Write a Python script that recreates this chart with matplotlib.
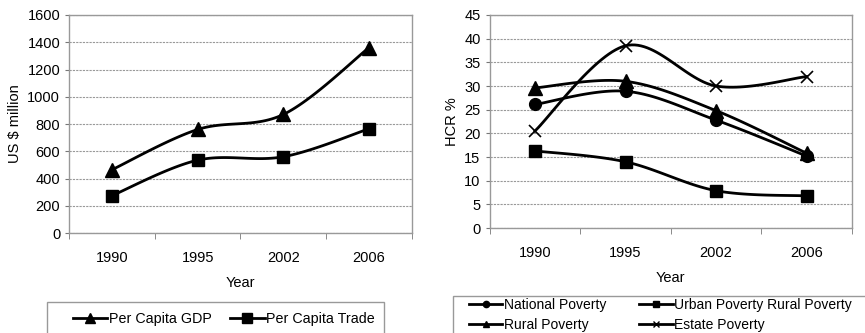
import numpy as np
import matplotlib
matplotlib.use("Agg")
import matplotlib.pyplot as plt
from matplotlib.lines import Line2D
from matplotlib.patches import Rectangle

plt.rcParams['font.family'] = ['Liberation Sans', 'DejaVu Sans']

# Data
years = ["1990", "1995", "2002", "2006"]
gdp = [465, 760, 870, 1360]
trade = [275, 535, 560, 765]

national = [26.1, 28.9, 22.8, 15.2]
urban = [16.3, 14.0, 7.9, 6.8]
rural = [29.6, 31.0, 24.8, 15.8]
estate = [20.5, 38.5, 30.0, 32.0]


def smooth(xs, ys, n=30):
    """Excel-style smoothed line (cubic Bezier through the points)."""
    pts = np.column_stack([np.asarray(xs, float), np.asarray(ys, float)])
    out = []
    for i in range(len(pts) - 1):
        p0 = pts[max(i - 1, 0)]
        p1 = pts[i]
        p2 = pts[i + 1]
        p3 = pts[min(i + 2, len(pts) - 1)]
        c1 = p1 + (p2 - p0) / 6
        c2 = p2 - (p3 - p1) / 6
        t = np.linspace(0, 1, n)[:, None]
        seg = ((1 - t) ** 3) * p1 + 3 * ((1 - t) ** 2) * t * c1 + 3 * (1 - t) * t ** 2 * c2 + t ** 3 * p2
        out.append(seg if i == 0 else seg[1:])
    seg = np.vstack(out)
    return seg[:, 0], seg[:, 1]


def style_axes(ax, ymax, ystep):
    ax.set_xlim(-0.5, len(years) - 0.5)
    ax.set_ylim(0, ymax)
    ax.set_yticks(np.arange(0, ymax + 1, ystep))
    ax.set_xticks(range(len(years)))
    ax.set_xticklabels(years)
    ax.set_xticks(np.arange(-0.5, len(years)), minor=True)
    ax.tick_params(axis='x', which='major', length=0, pad=13, labelsize=10.5)
    ax.tick_params(axis='x', which='minor', length=4, direction='out', color='#777777')
    ax.tick_params(axis='y', length=3, direction='out', color='#777777', labelsize=10.5)
    ax.yaxis.grid(True, color='#999999', linestyle=(0, (2, 1)), linewidth=0.8)
    ax.set_axisbelow(True)
    for s in ax.spines.values():
        s.set_color('#999999')
        s.set_linewidth(1.0)
    ax.set_xlabel("Year", fontsize=10.5, labelpad=8)


def draw(ax, ys, marker, ms, mew=1.0):
    x = np.arange(len(ys))
    sx, sy = smooth(x, ys)
    ax.plot(sx, sy, color='black', lw=2)
    ax.plot(x, ys, linestyle='none', marker=marker, ms=ms, color='black', mew=mew)


def frame(x0, y0, x1, y1):
    # legend box in pixel coords of the 865x333 figure
    fig.patches.append(Rectangle((x0 / 865, 1 - y1 / 333), (x1 - x0) / 865, (y1 - y0) / 333,
                                 transform=fig.transFigure, facecolor='white',
                                 edgecolor='#999999', lw=1.0, zorder=0))


fig = plt.figure(figsize=(8.65, 3.33), dpi=100)

# Left panel
ax1 = fig.add_axes([0.080, 0.300, 0.396, 0.655])
draw(ax1, gdp, '^', 9.5)
draw(ax1, trade, 's', 9)
style_axes(ax1, 1600, 200)
ax1.set_ylabel("US $ million", fontsize=10.5, labelpad=4)

frame(47, 302, 384, 345)
h1 = [Line2D([], [], color='black', lw=2, marker='^', ms=7),
      Line2D([], [], color='black', lw=2, marker='s', ms=7)]
fig.legend(h1, ["Per Capita GDP", "Per Capita Trade"], loc='upper left',
           bbox_to_anchor=(73 / 865, 1 - 312 / 333), ncol=2, fontsize=10.3,
           frameon=False, handlelength=2.4, handletextpad=0.1,
           columnspacing=1.3, borderpad=0, borderaxespad=0)

# Right panel
ax2 = fig.add_axes([0.566, 0.315, 0.419, 0.640])
draw(ax2, national, 'o', 8.5)
draw(ax2, urban, 's', 9)
draw(ax2, rural, '^', 9.5)
draw(ax2, estate, 'x', 9, mew=1.2)
style_axes(ax2, 45, 5)
ax2.set_ylabel("HCR %", fontsize=10.5, labelpad=4)

frame(453, 296, 875, 345)
h2 = [Line2D([], [], color='black', lw=2, marker='o', ms=4.5),
      Line2D([], [], color='black', lw=2, marker='^', ms=4.5),
      Line2D([], [], color='black', lw=2, marker='s', ms=4.5),
      Line2D([], [], color='black', lw=2, marker='x', ms=4.5)]
fig.legend(h2, ["National Poverty", "Rural Poverty", "Urban Poverty Rural Poverty", "Estate Poverty"],
           loc='upper left', bbox_to_anchor=(469 / 865, 1 - 298 / 333), ncol=2, fontsize=10,
           frameon=False, handlelength=2.4, handletextpad=0.1,
           columnspacing=2.4, borderpad=0, labelspacing=0.4, borderaxespad=0)

fig.savefig("out.png", dpi=100)
